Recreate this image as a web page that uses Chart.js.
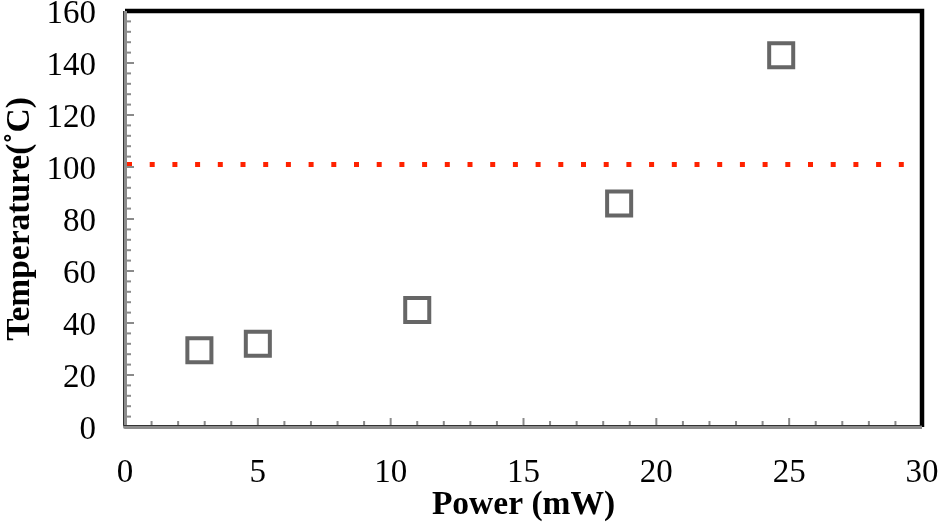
<!DOCTYPE html>
<html>
<head>
<meta charset="utf-8">
<script src="https://cdn.jsdelivr.net/npm/chart.js@4"></script>
<style>
  html, body { margin: 0; padding: 0; background: #fff; }
  #wrap { width: 941px; height: 525px; position: relative; }
</style>
</head>
<body>
<div id="wrap"><canvas id="chart" width="941" height="525"></canvas></div>
<script>
// measured points
const powerMW = [2.8, 5.0, 11.0, 18.6, 24.7];
const tempC = [29.5, 32, 45, 86, 143];
// limit line
const limitX = [0, 30];
const limitTemp = [101, 101];
const xTitle = "Power (mW)";
const yTitle = "Temperature(˚C)";

const serif = "'Liberation Serif', 'Times New Roman', serif";

// keep tick labels from pushing the plot area around
function noPad(s) {
  s.paddingTop = s.paddingBottom = s.paddingLeft = s.paddingRight = 0;
}

// inward minor/major ticks + frame
const frame = {
  id: 'frame',
  afterDraw(c) {
    const ctx = c.ctx, a = c.chartArea;
    const xs = c.scales.x, ys = c.scales.y;
    ctx.save();
    ctx.strokeStyle = '#8a8a8a';
    ctx.lineWidth = 2;
    for (let v = 1; v < 30; v++) {
      const px = xs.getPixelForValue(v);
      const len = v % 5 === 0 ? 9 : 6;
      ctx.beginPath(); ctx.moveTo(px, a.bottom); ctx.lineTo(px, a.bottom - len); ctx.stroke();
    }
    for (let v = 4; v < 160; v += 4) {
      const py = ys.getPixelForValue(v);
      const len = v % 20 === 0 ? 9 : 6;
      ctx.beginPath(); ctx.moveTo(a.left, py); ctx.lineTo(a.left + len, py); ctx.stroke();
    }
    // top & right black
    ctx.strokeStyle = '#000';
    ctx.lineWidth = 4.5;
    ctx.beginPath();
    ctx.moveTo(a.left, a.top); ctx.lineTo(a.right, a.top); ctx.lineTo(a.right, a.bottom);
    ctx.stroke();
    // left & bottom gray
    ctx.strokeStyle = '#8c8c8c';
    ctx.lineWidth = 4;
    ctx.lineJoin = 'round';
    ctx.beginPath();
    ctx.moveTo(a.left, a.top); ctx.lineTo(a.left, a.bottom); ctx.lineTo(a.right, a.bottom);
    ctx.stroke();
    ctx.strokeStyle = '#333';
    ctx.lineWidth = 1;
    ctx.beginPath();
    ctx.moveTo(a.left - 1.5, a.top); ctx.lineTo(a.left - 1.5, a.bottom - 1.5); ctx.lineTo(a.right, a.bottom - 1.5);
    ctx.stroke();
    ctx.restore();
  }
};

new Chart(document.getElementById('chart'), {
  type: 'scatter',
  data: {
    datasets: [
      {
        data: powerMW.map((x, i) => ({ x, y: tempC[i] })),
        pointStyle: 'rect',
        pointRadius: 17,
        pointBorderWidth: 4,
        pointBorderColor: '#666',
        pointBackgroundColor: '#fff',
        showLine: false
      },
      {
        type: 'line',
        data: limitX.map((x, i) => ({ x, y: limitTemp[i] })),
        borderColor: '#ff2200',
        borderWidth: 5,
        borderDash: [5, 17.7],
        borderDashOffset: -2,
        borderCapStyle: 'butt',
        pointRadius: 0,
        order: 1
      }
    ]
  },
  options: {
    responsive: false,
    animation: false,
    layout: { autoPadding: false, padding: { left: 0, right: 19, top: 11, bottom: 0 } },
    plugins: { legend: { display: false }, tooltip: { enabled: false } },
    scales: {
      x: {
        type: 'linear', min: 0, max: 30,
        ticks: { stepSize: 5, color: '#000', font: { family: serif, size: 33 }, padding: 27 },
        grid: { display: false, drawTicks: false },
        border: { display: false },
        title: { display: true, text: xTitle, color: '#000', font: { family: serif, size: 33.5, weight: 'bold' }, padding: { top: 0, bottom: 0 } },
        afterFit(s) { s.height = 98; noPad(s); }
      },
      y: {
        type: 'linear', min: 0, max: 160,
        ticks: { stepSize: 20, color: '#000', font: { family: serif, size: 33 }, padding: 29, labelOffset: 3 },
        grid: { display: false, drawTicks: false },
        border: { display: false },
        title: { display: true, text: yTitle, color: '#000', font: { family: serif, size: 33.5, weight: 'bold' }, padding: { top: 0, bottom: 0 } },
        afterFit(s) { s.width = 125; noPad(s); }
      }
    }
  },
  plugins: [frame]
});
</script>
</body>
</html>
